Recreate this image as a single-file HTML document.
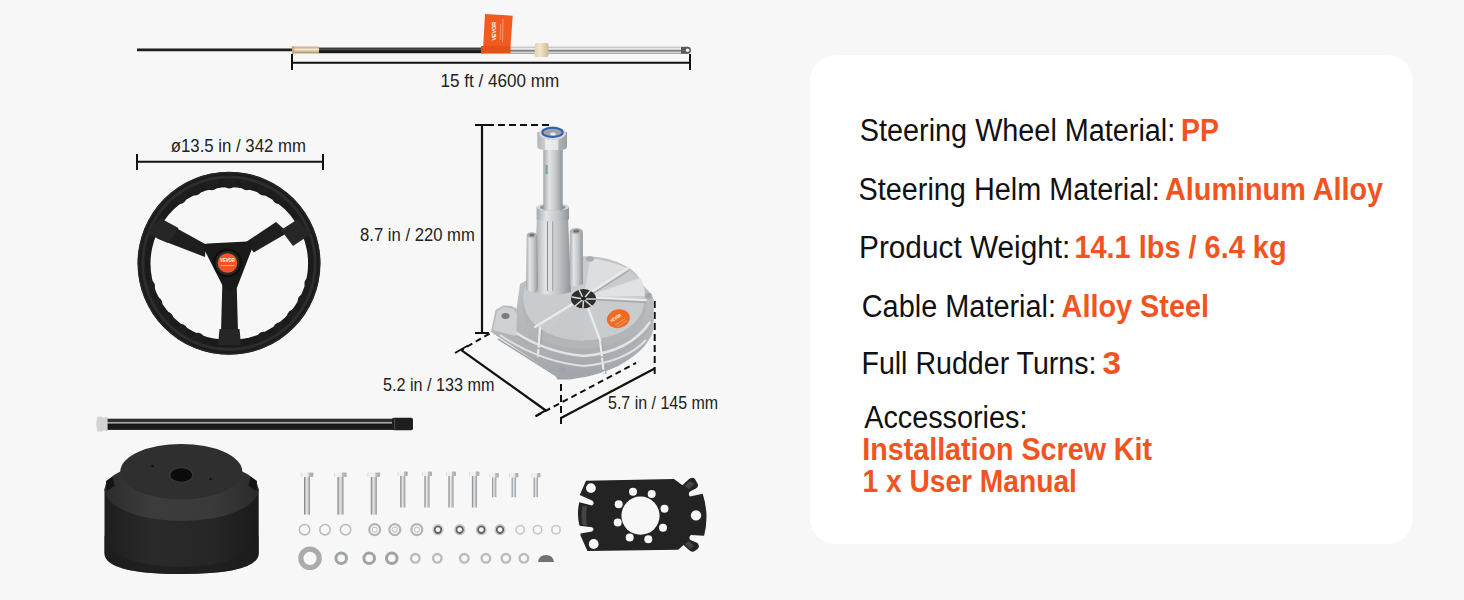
<!DOCTYPE html>
<html><head><meta charset="utf-8">
<style>
html,body{margin:0;padding:0;background:#f7f7f7;}
body{width:1464px;height:600px;overflow:hidden;position:relative;font-family:"Liberation Sans",sans-serif;}
svg{position:absolute;left:0;top:0;}
.card{position:absolute;left:810px;top:55px;width:603px;height:489px;background:#fff;border-radius:26px;}
</style></head><body>
<div class="card"></div>
<svg width="1464" height="600" viewBox="0 0 1464 600">
<defs>
  <linearGradient id="silverV" x1="0" y1="0" x2="1" y2="0">
    <stop offset="0" stop-color="#a4a8ac"/><stop offset="0.3" stop-color="#e2e4e6"/><stop offset="0.65" stop-color="#c3c6c9"/><stop offset="1" stop-color="#8f9397"/>
  </linearGradient>
  <linearGradient id="rodG" x1="0" y1="0" x2="0" y2="1">
    <stop offset="0" stop-color="#8d9194"/><stop offset="0.3" stop-color="#eceeef"/><stop offset="0.7" stop-color="#b8bbbe"/><stop offset="1" stop-color="#7d8184"/>
  </linearGradient>
  <linearGradient id="blackRod" x1="0" y1="0" x2="0" y2="1">
    <stop offset="0" stop-color="#1a1a1a"/><stop offset="0.3" stop-color="#5a5a5a"/><stop offset="0.5" stop-color="#262626"/><stop offset="1" stop-color="#141414"/>
  </linearGradient>
  <linearGradient id="brass" x1="0" y1="0" x2="0" y2="1">
    <stop offset="0" stop-color="#c4a37a"/><stop offset="0.45" stop-color="#f3e5cc"/><stop offset="1" stop-color="#a98a5e"/>
  </linearGradient>
  <linearGradient id="baseSide" x1="0" y1="0" x2="1" y2="0">
    <stop offset="0" stop-color="#1e1e1e"/><stop offset="0.3" stop-color="#2a2a2a"/><stop offset="0.7" stop-color="#262626"/><stop offset="1" stop-color="#1a1a1a"/>
  </linearGradient>
  <linearGradient id="boltG" x1="0" y1="0" x2="1" y2="0">
    <stop offset="0" stop-color="#727578"/><stop offset="0.18" stop-color="#a6a9ac"/><stop offset="0.4" stop-color="#e4e6e8"/><stop offset="0.7" stop-color="#c4c7c9"/><stop offset="1" stop-color="#8a8d90"/>
  </linearGradient>
  <linearGradient id="boltH" x1="0" y1="0" x2="1" y2="0">
    <stop offset="0" stop-color="#c9cbcd"/><stop offset="0.1" stop-color="#f2f3f3"/><stop offset="0.6" stop-color="#eceded"/><stop offset="0.65" stop-color="#b9bcbe"/><stop offset="1" stop-color="#a9acaf"/>
  </linearGradient>
  <linearGradient id="bodyG" x1="0" y1="0" x2="0" y2="1">
    <stop offset="0" stop-color="#c2c5c8"/><stop offset="0.6" stop-color="#b4b7ba"/><stop offset="1" stop-color="#a0a4a8"/>
  </linearGradient>
  <linearGradient id="chromeG" x1="0" y1="0" x2="0" y2="1">
    <stop offset="0" stop-color="#8f9193"/><stop offset="0.18" stop-color="#f3f3f3"/><stop offset="0.42" stop-color="#cfd0d1"/><stop offset="0.58" stop-color="#55585a"/><stop offset="0.75" stop-color="#e9eaea"/><stop offset="1" stop-color="#8a8c8e"/>
  </linearGradient>
  <linearGradient id="collarG" x1="0" y1="0" x2="1" y2="0">
    <stop offset="0" stop-color="#e3d3b2"/><stop offset="0.4" stop-color="#f3e6cb"/><stop offset="1" stop-color="#cdbb96"/>
  </linearGradient>
  <clipPath id="rimClip"><path fill-rule="evenodd" d="M0 0 H800 V600 H0 Z M152.3 263.6 a77.0 74.6 0 1 0 154.0 0 a77.0 74.6 0 1 0 -154.0 0 Z"/></clipPath>
  <linearGradient id="chamferG" x1="0" y1="0" x2="1" y2="0">
    <stop offset="0" stop-color="#2c2c2c"/><stop offset="0.3" stop-color="#3c3c3c"/><stop offset="0.7" stop-color="#3a3a3a"/><stop offset="1" stop-color="#2a2a2a"/>
  </linearGradient>
  <linearGradient id="rodBlack" x1="0" y1="0" x2="0" y2="1">
    <stop offset="0" stop-color="#2a2a2a"/><stop offset="0.25" stop-color="#333"/><stop offset="0.3" stop-color="#a8a8a8"/><stop offset="0.4" stop-color="#a8a8a8"/><stop offset="0.47" stop-color="#151515"/><stop offset="1" stop-color="#1c1c1c"/>
  </linearGradient>
  <linearGradient id="hexG" x1="0" y1="0" x2="1" y2="0">
    <stop offset="0" stop-color="#b2b5b8"/><stop offset="0.26" stop-color="#cdd0d2"/><stop offset="0.28" stop-color="#eef0f1"/><stop offset="0.7" stop-color="#e2e4e6"/><stop offset="0.72" stop-color="#b0b4b7"/><stop offset="1" stop-color="#9a9ea2"/>
  </linearGradient>
</defs>

<!-- ===== CABLE ===== -->
<g id="cable">
  <line x1="137" y1="49.9" x2="293" y2="49.9" stroke="#1e1e1e" stroke-width="2.8"/>
  <rect x="292.5" y="46.6" width="26.5" height="6.8" fill="url(#brass)"/>
  <rect x="291.8" y="46" width="2.4" height="8" fill="#c9a877"/>
  <rect x="319" y="47.6" width="165" height="5.6" fill="url(#blackRod)"/>
  <rect x="510" y="46.8" width="178" height="7" fill="url(#chromeG)"/>
  <path d="M681 47 L688 46.8 Q691 47 691 50.3 Q691 53.6 688 53.8 L681 53.8 Z" fill="#5a5a5a"/>
  <circle cx="687.6" cy="50.3" r="1.8" fill="#f0f0f0"/>
  <rect x="534.8" y="43.1" width="13.6" height="14" rx="1.5" fill="url(#collarG)"/>
  <!-- orange tag -->
  <path d="M485 14 L512.7 15.8 L510.5 46.5 L483.2 46.5 Z" fill="#f25a1f"/>
  <rect x="481" y="46" width="29.5" height="7.6" fill="#e4511b"/>
  <text x="0" y="0" transform="translate(496.2 40.5) rotate(-90)" font-family="'Liberation Sans', sans-serif" font-weight="bold" font-size="5.6" fill="#fff" textLength="18.5" lengthAdjust="spacingAndGlyphs">VEVOR</text>
  <line x1="503" y1="19" x2="502.5" y2="42" stroke="#fbc5a8" stroke-width="0.6"/>
  <line x1="500.5" y1="24" x2="500.3" y2="40" stroke="#fbc5a8" stroke-width="0.5"/>
  <!-- dim line -->
  <line x1="292" y1="62.8" x2="690" y2="62.8" stroke="#111" stroke-width="2"/>
  <line x1="292" y1="54" x2="292" y2="70" stroke="#111" stroke-width="2"/>
  <line x1="690" y1="54" x2="690" y2="70" stroke="#111" stroke-width="2"/>
  <text x="440.55" y="86.8" font-family="'Liberation Sans', sans-serif" font-size="18" fill="#222" textLength="118.56" lengthAdjust="spacingAndGlyphs">15 ft / 4600 mm</text>
</g>

<!-- ===== STEERING WHEEL ===== -->
<g id="wheel">
  <line x1="136.5" y1="161.8" x2="323.5" y2="161.8" stroke="#111" stroke-width="2"/>
  <line x1="137" y1="154" x2="137" y2="170" stroke="#111" stroke-width="2"/>
  <line x1="323" y1="154" x2="323" y2="170" stroke="#111" stroke-width="2"/>
  <text x="170.77" y="151.9" font-family="'Liberation Sans', sans-serif" font-size="18" fill="#222" textLength="135.14" lengthAdjust="spacingAndGlyphs">ø13.5 in / 342 mm</text>
  <circle cx="229" cy="263.3" r="91.5" fill="#1b1b1b"/>
  <circle cx="229" cy="263.3" r="90.5" fill="none" stroke="#262626" stroke-width="1.5"/>
  <ellipse cx="229.3" cy="263.6" rx="78.8" ry="76.4" fill="#f7f7f7"/>
  <g fill="#1e1e1e"><circle cx="179.8" cy="197.4" r="6.6"/><circle cx="195.1" cy="188.9" r="6.6"/><circle cx="211.8" cy="183.6" r="6.6"/><circle cx="229.3" cy="181.8" r="6.6"/><circle cx="246.8" cy="183.6" r="6.6"/><circle cx="263.5" cy="188.9" r="6.6"/><circle cx="278.8" cy="197.4" r="6.6"/><circle cx="197.8" cy="339.4" r="6.6"/><circle cx="181.0" cy="330.6" r="6.6"/><circle cx="166.7" cy="318.3" r="6.6"/><circle cx="155.7" cy="303.3" r="6.6"/><circle cx="148.4" cy="286.1" r="6.6"/><circle cx="311.0" cy="283.4" r="6.6"/><circle cx="304.3" cy="300.7" r="6.6"/><circle cx="293.8" cy="316.2" r="6.6"/><circle cx="280.0" cy="328.9" r="6.6"/><circle cx="263.5" cy="338.3" r="6.6"/></g>
  <circle cx="229" cy="263.3" r="86.2" fill="none" stroke="#2d2d2d" stroke-width="3"/>
  <!-- spokes -->
  <path d="M157 238.5 L167.5 223.3 L206 244.5 L205 257 Z" fill="#1e1e1e"/>
  <path d="M276 222 L288 232.6 L253.8 252.4 L246 242 Z" fill="#1e1e1e"/>
  <path d="M222.3 285 L236.7 285 L238 332 L221 332 Z" fill="#1e1e1e"/>
  <path d="M146 233 L160 218 L178.5 228 L168 243 Z" fill="#262626"/>
  <path d="M298 219 L311 234 L293 246 L281 230 Z" fill="#262626"/>
  <path d="M219.5 329 L239.5 329 L241 345 L218 345 Z" fill="#262626"/>
  <!-- hub -->
  <path d="M204 249 Q202.5 243.5 208 243.5 L247 241.5 Q253.5 241 252.5 247.5 L237 287.5 Q230 294 223.5 287.5 Z" fill="#1a1a1a"/>
  <circle cx="227.5" cy="263" r="14.3" fill="#0e0e0e"/>
  <circle cx="227.5" cy="263" r="12" fill="#2a2a2a"/>
  <circle cx="227.5" cy="263" r="9.8" fill="#f05523"/>
  <text x="220.2" y="262" font-family="'Liberation Sans', sans-serif" font-weight="bold" font-size="4.6" fill="#fff" textLength="14.6" lengthAdjust="spacingAndGlyphs">VEVOR</text>
  <rect x="220.5" y="265" width="14" height="0.9" fill="#fff" opacity="0.55"/>
</g>

<!-- ===== HELM ===== -->
<g id="helm">
  <!-- dims -->
  <line x1="482" y1="125" x2="482" y2="333" stroke="#111" stroke-width="2.2"/>
  <line x1="475" y1="333" x2="489" y2="333" stroke="#111" stroke-width="2"/>
  <line x1="475" y1="125" x2="489" y2="125" stroke="#111" stroke-width="2"/>
  <line x1="549" y1="125" x2="489" y2="125" stroke="#111" stroke-width="2" stroke-dasharray="7 4"/>
  <text x="360.08" y="240.6" font-family="'Liberation Sans', sans-serif" font-size="18" fill="#222" textLength="114.71" lengthAdjust="spacingAndGlyphs">8.7 in / 220 mm</text>

  <line x1="489.5" y1="333.6" x2="461" y2="350.3" stroke="#111" stroke-width="2" stroke-dasharray="6 4"/>
  <line x1="455" y1="353" x2="468" y2="345.5" stroke="#111" stroke-width="2"/>
  <line x1="461.7" y1="350.3" x2="545.8" y2="410.5" stroke="#111" stroke-width="2.2"/>
  <line x1="535.4" y1="416.3" x2="546.4" y2="409.9" stroke="#111" stroke-width="2"/>
  <line x1="536" y1="416" x2="636" y2="363" stroke="#111" stroke-width="2" stroke-dasharray="6 4"/>
  <text x="383.0" y="390.9" font-family="'Liberation Sans', sans-serif" font-size="18" fill="#222" textLength="111.55" lengthAdjust="spacingAndGlyphs">5.2 in / 133 mm</text>

  <line x1="561" y1="384" x2="561" y2="427" stroke="#111" stroke-width="2" stroke-dasharray="7 4"/>
  <line x1="654.7" y1="301" x2="654.7" y2="375" stroke="#111" stroke-width="2" stroke-dasharray="7 4"/>
  <line x1="561" y1="418" x2="654.7" y2="368.5" stroke="#111" stroke-width="2.2"/>
  <text x="608.01" y="408.9" font-family="'Liberation Sans', sans-serif" font-size="18" fill="#222" textLength="110.13" lengthAdjust="spacingAndGlyphs">5.7 in / 145 mm</text>

  <!-- body -->
  <path d="M491 332 L495.5 310 L503 305.4 L512 306 L516.5 309 L520 284 L527 280 Q545 262 582 256.5 Q605 255 627.5 266.7 Q638 273 642 283.7 L651.7 294.5 L654 300.6 L653.5 329.6 Q650 342 639.6 351.3 Q628 361 618 366 Q600 374 586.5 376.7 L569.6 379.6 L557.5 379.5 L554 374 Z" fill="url(#bodyG)"/>
  <!-- top disc -->
  <path d="M523 300 Q523 262 584 258.5 Q641 262 645 296 Q645 330 600 339 Q584 342 565 339 Q526 330 523 300 Z" fill="#c9ccce"/>
  <path d="M523 300 Q526 330 565 339 Q584 342 600 339 Q645 330 645 296 L646 306 Q645 336 600 347 Q584 350 565 347 Q524 338 523 310 Z" fill="#b3b6b9"/>
  <!-- sector shading -->
  <path d="M584 297 L548 333 Q560 339 584 341 Z" fill="#c6c9cc"/>
  <path d="M584 297 L645 296 Q645 285 640 278 Z" fill="#dfe1e3"/>
  <path d="M584 297 L627 268 Q606 259 590 258.5 Z" fill="#dcdee0"/>
  <!-- ribs -->
  <g stroke="#e9ebec" stroke-width="2.2" fill="none" stroke-linecap="round">
    <path d="M584 297 L628 268"/>
    <path d="M584 297 L646 300"/>
    <path d="M584 297 L600 340"/>
    <path d="M584 297 L535 327"/>
    <path d="M540 328 L538 356"/>
    <path d="M600 340 L604 373"/>
  </g>
  <g stroke="#a3a7ab" stroke-width="1.3" fill="none">
    <path d="M584 299 L629 270.5"/>
    <path d="M586 299 L646 302.5"/>
    <path d="M542 330 L540 357"/>
    <path d="M602 341 L606 374"/>
  </g>
  <!-- skirt ridges -->
  <path d="M505 325 Q540 352 584 356 Q630 352 650 322" fill="none" stroke="#e2e4e6" stroke-width="2.4"/>
  <path d="M505 328 Q540 356 584 360 Q630 356 651 326" fill="none" stroke="#a9adb1" stroke-width="1.4"/>
  <path d="M500 335 Q540 362 584 366 Q625 362 646 340" fill="none" stroke="#dfe1e3" stroke-width="2"/>
  <path d="M498 339 L555 375 L569 378 Q600 374 620 364" fill="none" stroke="#a3a7ab" stroke-width="1.6"/>
  <!-- left lug -->
  <path d="M493 330 L497 311 L504 307 L514 309 L517 314 L516 336 Z" fill="#cfd2d4"/>
  <ellipse cx="505.5" cy="316" rx="4" ry="3" fill="#7a7e82"/>
  <!-- front lug -->
  <ellipse cx="562" cy="370" rx="3.5" ry="3" fill="#9ea2a6"/>
  <!-- right lug -->
  <ellipse cx="648.5" cy="296" rx="3.5" ry="3" fill="#a4a8ac"/>
  <!-- back lug -->
  <ellipse cx="590" cy="259" rx="4" ry="2.8" fill="#a9adb1"/>
  <!-- column & posts -->
  <path d="M537 216 L568 216 L571 292 Q553 298 534 292 Z" fill="url(#silverV)"/>
  <rect x="547.6" y="219" width="4.6" height="72" fill="#dcdee0"/>
  <rect x="547" y="219" width="1" height="72" fill="#8d9195"/>
  <rect x="552.2" y="219" width="1" height="72" fill="#9a9ea2"/>
  <path d="M526.7 236 Q526.7 233 532 233 Q537.2 233 537.2 236 L538 290 Q532 293 526 290 Z" fill="url(#silverV)"/>
  <ellipse cx="531.9" cy="235" rx="5.2" ry="2.8" fill="#aeb2b5"/>
  <ellipse cx="531.9" cy="235" rx="2.6" ry="1.5" fill="#6d7175"/>
  <path d="M569.8 231.5 Q569.8 229 576.3 229 Q582.8 229 582.8 231.5 L583 284 Q576 288 569.5 285 Z" fill="url(#silverV)"/>
  <ellipse cx="576.3" cy="231" rx="6.2" ry="3" fill="#aeb2b5"/>
  <ellipse cx="576.3" cy="231" rx="3" ry="1.6" fill="#6d7175"/>
  <!-- collar -->
  <path d="M536.6 207 L569 207 L569 219.5 Q552.8 223.5 536.6 219.5 Z" fill="url(#silverV)"/>
  <ellipse cx="552.8" cy="207" rx="16.2" ry="4" fill="#d5d7d9"/>
  <ellipse cx="552.8" cy="207.3" rx="12.8" ry="3" fill="#8e9296"/>
  <!-- shaft -->
  <rect x="543.3" y="148" width="19.4" height="62.5" fill="url(#silverV)"/>
  <rect x="545.5" y="165" width="2.2" height="9" fill="#7aa39a"/>
  <!-- nut -->
  <path d="M537.3 132 L567 132 L567 146 Q567 149.5 562 150 L543 150 Q537.3 149.5 537.3 146 Z" fill="url(#hexG)"/>
  <ellipse cx="552.5" cy="133.2" rx="13.2" ry="7" fill="#d6d8da"/>
  <ellipse cx="552.5" cy="132.4" rx="10.2" ry="4.6" fill="#9ea2a6" stroke="#2f5fb2" stroke-width="2"/>
  <ellipse cx="553" cy="134" rx="3" ry="1.4" fill="#e8eaec"/>
  <!-- center hole -->
  <ellipse cx="583.5" cy="298.7" rx="12.5" ry="9.6" fill="#2e2e2e"/>
  <g stroke="#d8dadc" stroke-width="1.5" stroke-linecap="round">
    <path d="M583.5 299 L579 289.5"/><path d="M583.5 299 L591 290"/><path d="M583.5 299 L572 297"/><path d="M583.5 299 L595.5 299"/><path d="M583.5 299 L575 306"/><path d="M583.5 299 L592 306.5"/><path d="M583.5 299 L583 308"/>
  </g>
  <ellipse cx="583.5" cy="298.5" rx="2.5" ry="2" fill="#222"/>
  <!-- logo -->
  <ellipse cx="618.4" cy="318.7" rx="11.6" ry="9.3" fill="#f26a22" transform="rotate(-12 618.4 318.7)"/>
  <text x="0" y="0" transform="translate(611.5 322.5) rotate(-32)" font-family="'Liberation Sans', sans-serif" font-weight="bold" font-size="4.4" fill="#fff" textLength="12" lengthAdjust="spacingAndGlyphs">VEVOR</text>
  <line x1="615" y1="325" x2="625" y2="318.7" stroke="#fff" stroke-width="0.6" opacity="0.6"/>
  <line x1="617" y1="327" x2="627" y2="320.7" stroke="#fff" stroke-width="0.6" opacity="0.6"/>
</g>

<!-- ===== ROD ===== -->
<g id="rod">
  <rect x="107" y="418.7" width="287" height="11.2" fill="url(#rodBlack)"/>
  <path d="M97 417 Q102 415.5 104 418 Q105.5 416 107.6 417 L107.6 431 Q105.5 432 104 430 Q102 432.5 97 431 Q95.5 424 97 417 Z" fill="#d2d3d3"/>
  <rect x="392" y="417.8" width="21" height="12.4" rx="2" fill="#1e1e1e"/>
  <rect x="394" y="418.5" width="1.2" height="11" fill="#444"/>
</g>

<!-- ===== BASE ===== -->
<g id="base">
  <path d="M104.5 489 L104.5 553 Q104.5 574 181.6 574 Q258.7 574 258.7 553 L258.7 489 Z" fill="url(#baseSide)"/>
  <path d="M104.5 535 L104.5 553 Q104.5 574 181.6 574 Q258.7 574 258.7 553 L258.7 535 Q252 566 181.6 567 Q111 566 104.5 535 Z" fill="#1d1d1d" opacity="0.75"/>
  <path d="M104.5 489 Q106 478 120.3 471.5 L242.3 471.5 Q257 478 258.7 489 Z" fill="#333"/>
  <path d="M104.5 489 L120.3 471.5 A61 27.5 0 0 0 242.3 471.5 L258.7 489 A77.1 32 0 0 1 104.5 489 Z" fill="url(#chamferG)"/>
  <ellipse cx="181.3" cy="471.5" rx="61" ry="27.5" fill="#2f2f2f"/>
  <ellipse cx="181.3" cy="475" rx="12.2" ry="7.8" fill="#3a3a3a"/>
  <ellipse cx="181.3" cy="475" rx="11" ry="6.8" fill="#0b0b0b"/>
  <circle cx="152.5" cy="466" r="1.3" fill="#111"/>
  <circle cx="210.5" cy="479" r="1.3" fill="#111"/>
  <path d="M106 481 L112.5 476.5 L114.5 486 L106.5 491 Z" fill="#141414"/>
  <path d="M257 481 L250.5 476.5 L248.5 486 L256.5 491 Z" fill="#141414"/>
</g>

<!-- ===== HARDWARE ===== -->
<g id="hardware">
  <rect x="304.0" y="476.5" width="6" height="38.1" fill="url(#boltG)"/>
  <rect x="300.8" y="472.5" width="12.5" height="4.5" rx="0.8" fill="url(#boltH)"/>
  <rect x="337.5" y="476.5" width="6" height="38.1" fill="url(#boltG)"/>
  <rect x="334.2" y="472.5" width="12.5" height="4.5" rx="0.8" fill="url(#boltH)"/>
  <rect x="370.8" y="476.5" width="6" height="38.1" fill="url(#boltG)"/>
  <rect x="367.6" y="472.5" width="12.5" height="4.5" rx="0.8" fill="url(#boltH)"/>
  <rect x="400.3" y="475.5" width="5" height="32.0" fill="url(#boltG)"/>
  <rect x="397.8" y="471.5" width="10" height="4.5" rx="0.8" fill="url(#boltH)"/>
  <rect x="424.5" y="475.5" width="5" height="32.0" fill="url(#boltG)"/>
  <rect x="422.0" y="471.5" width="10" height="4.5" rx="0.8" fill="url(#boltH)"/>
  <rect x="448.5" y="475.5" width="5" height="32.0" fill="url(#boltG)"/>
  <rect x="446.0" y="471.5" width="10" height="4.5" rx="0.8" fill="url(#boltH)"/>
  <rect x="471.9" y="475.5" width="5" height="32.0" fill="url(#boltG)"/>
  <rect x="469.4" y="471.5" width="10" height="4.5" rx="0.8" fill="url(#boltH)"/>
  <rect x="492.1" y="477.0" width="4.2" height="20.2" fill="url(#boltG)"/>
  <rect x="489.6" y="473" width="9.2" height="4.5" rx="0.8" fill="url(#boltH)"/>
  <rect x="511.7" y="477.0" width="4.2" height="20.2" fill="url(#boltG)"/>
  <rect x="509.2" y="473" width="9.2" height="4.5" rx="0.8" fill="url(#boltH)"/>
  <rect x="533.7" y="477.0" width="4.2" height="20.2" fill="url(#boltG)"/>
  <rect x="531.2" y="473" width="9.2" height="4.5" rx="0.8" fill="url(#boltH)"/>
  <circle cx="304.6" cy="529.7" r="5.2" fill="none" stroke="#b9bcbe" stroke-width="1.6"/>
  <circle cx="325" cy="529.7" r="5.2" fill="none" stroke="#b9bcbe" stroke-width="1.6"/>
  <circle cx="345.5" cy="529.7" r="5.2" fill="none" stroke="#b9bcbe" stroke-width="1.6"/>
  <circle cx="374.7" cy="529.7" r="5.5" fill="none" stroke="#b3b6b8" stroke-width="2.2"/>
  <circle cx="394.8" cy="529.7" r="5.5" fill="none" stroke="#b3b6b8" stroke-width="2.2"/>
  <circle cx="416.8" cy="529.7" r="5.5" fill="none" stroke="#b3b6b8" stroke-width="2.2"/>
  <circle cx="438" cy="529.7" r="5" fill="none" stroke="#c4c6c8" stroke-width="1.2"/><circle cx="438" cy="529.7" r="3.3" fill="#f4f4f4" stroke="#5e6164" stroke-width="1.8"/>
  <circle cx="459.7" cy="529.7" r="5" fill="none" stroke="#c4c6c8" stroke-width="1.2"/><circle cx="459.7" cy="529.7" r="3.3" fill="#f4f4f4" stroke="#5e6164" stroke-width="1.8"/>
  <circle cx="481.3" cy="529.7" r="5" fill="none" stroke="#c4c6c8" stroke-width="1.2"/><circle cx="481.3" cy="529.7" r="3.3" fill="#f4f4f4" stroke="#5e6164" stroke-width="1.8"/>
  <circle cx="500" cy="529.7" r="5" fill="none" stroke="#c4c6c8" stroke-width="1.2"/><circle cx="500" cy="529.7" r="3.3" fill="#f4f4f4" stroke="#5e6164" stroke-width="1.8"/>
  <circle cx="520.2" cy="529.7" r="4.2" fill="none" stroke="#c3c5c7" stroke-width="1.6"/>
  <circle cx="537.6" cy="529.7" r="4.2" fill="none" stroke="#c3c5c7" stroke-width="1.6"/>
  <circle cx="556" cy="529.7" r="4.2" fill="none" stroke="#c3c5c7" stroke-width="1.6"/>
  <circle cx="310" cy="558.3" r="9.2" fill="none" stroke="#a9acae" stroke-width="5.2"/>
  <circle cx="341.2" cy="558.3" r="5.3" fill="none" stroke="#a0a3a5" stroke-width="3"/>
  <circle cx="369.2" cy="558.3" r="5.3" fill="none" stroke="#a0a3a5" stroke-width="3"/>
  <circle cx="391.8" cy="558.3" r="5.3" fill="none" stroke="#a0a3a5" stroke-width="3"/>
  <circle cx="415.3" cy="558.3" r="4.3" fill="none" stroke="#b9bcbe" stroke-width="2.4"/>
  <circle cx="437.3" cy="558.3" r="4.3" fill="none" stroke="#b9bcbe" stroke-width="2.4"/>
  <circle cx="464.3" cy="558.3" r="4.3" fill="none" stroke="#b9bcbe" stroke-width="2.4"/>
  <circle cx="485.9" cy="558.3" r="4.3" fill="none" stroke="#b9bcbe" stroke-width="2.4"/>
  <circle cx="505.9" cy="558.3" r="4.3" fill="none" stroke="#b9bcbe" stroke-width="2.4"/>
  <circle cx="523.9" cy="558.3" r="4.3" fill="none" stroke="#b9bcbe" stroke-width="2.4"/>
  <circle cx="374.7" cy="529.7" r="2.6" fill="none" stroke="#b8bbbd" stroke-width="1"/>
  <circle cx="394.8" cy="529.7" r="2.6" fill="none" stroke="#b8bbbd" stroke-width="1"/>
  <circle cx="416.8" cy="529.7" r="2.6" fill="none" stroke="#b8bbbd" stroke-width="1"/>
  <path d="M538 562 Q539 555 546 555 Q553 555 554 562 Z" fill="#6f7173"/>
</g>
<!-- ===== PLATE ===== -->
<g id="plate">
  <path d="M586 480.7 L674 479 L682.4 485.3 L688.5 479.5 Q692 476.5 695 479 L698 484.5 Q698.5 487 696 488.5 L690 491.5 Q687.5 494 690 496.5 L702.7 493.7 Q709.5 515 704.1 535.8 L691 535 Q688 537.5 690.5 540 L697.5 543 Q700 546 698 548.5 L694.5 551.2 Q691.5 552.5 689 550 L683.5 545 L678.2 549.8 L587.4 551 L580.5 535.6 L580.5 533.5 L592 531.4 Q595 529.3 592 527.2 L579.5 525.8 Q576.5 514 579.3 502.2 L592 505.6 Q595.5 503 592 500.6 L579.7 495 Z" fill="#232323"/>
  <path d="M582.5 506 Q580.5 516 582.5 525 L587 525.5 Q585.5 516 587 506.5 Z" fill="#444"/>
  <path d="M684.5 486 L690 481 L694 484 L689 489 Z" fill="#444"/>
  <path d="M684.5 544 L690 549 L694 546 L689 541 Z" fill="#444"/>
  <g fill="#f7f7f7">
    <circle cx="640.5" cy="515.7" r="19.1"/>
    <circle cx="633" cy="491.7" r="4"/><circle cx="651.7" cy="494" r="4"/><circle cx="664.5" cy="508.7" r="4"/><circle cx="663" cy="527.7" r="4"/>
    <circle cx="648.3" cy="539.3" r="4"/><circle cx="629.7" cy="537.5" r="4"/><circle cx="617.7" cy="522.5" r="4"/><circle cx="618.7" cy="504.2" r="4"/>
    <circle cx="590.9" cy="488.1" r="4.9"/><circle cx="593.7" cy="544" r="4.9"/><circle cx="696" cy="515.4" r="5.2"/>
  </g>
</g>

<!-- ===== RIGHT TEXT ===== -->
<g font-family="'Liberation Sans', sans-serif" font-size="31" fill="#111">
  <text x="859.84" y="140.7" textLength="315.42" lengthAdjust="spacingAndGlyphs">Steering Wheel Material:</text>
  <text x="1181.06" y="140.7" font-weight="bold" fill="#f2531f" textLength="37.99" lengthAdjust="spacingAndGlyphs">PP</text>
  <text x="858.54" y="199.7" textLength="301.16" lengthAdjust="spacingAndGlyphs">Steering Helm Material:</text>
  <text x="1165.07" y="199.7" font-weight="bold" fill="#f2531f" textLength="217.98" lengthAdjust="spacingAndGlyphs">Aluminum Alloy</text>
  <text x="859.02" y="258.3" textLength="211.35" lengthAdjust="spacingAndGlyphs">Product Weight:</text>
  <text x="1074.43" y="258.3" font-weight="bold" fill="#f2531f" textLength="212.17" lengthAdjust="spacingAndGlyphs">14.1 lbs / 6.4 kg</text>
  <text x="861.74" y="317.0" textLength="194.33" lengthAdjust="spacingAndGlyphs">Cable Material:</text>
  <text x="1061.57" y="317.0" font-weight="bold" fill="#f2531f" textLength="147.43" lengthAdjust="spacingAndGlyphs">Alloy Steel</text>
  <text x="861.43" y="374.4" textLength="235.08" lengthAdjust="spacingAndGlyphs">Full Rudder Turns:</text>
  <text x="1102.63" y="374.4" font-weight="bold" fill="#f2531f" textLength="18.51" lengthAdjust="spacingAndGlyphs">3</text>
  <text x="864.2" y="427.6" textLength="163.24" lengthAdjust="spacingAndGlyphs">Accessories:</text>
  <text x="862.35" y="459.5" font-weight="bold" fill="#f2531f" textLength="289.72" lengthAdjust="spacingAndGlyphs">Installation Screw Kit</text>
  <text x="862.38" y="491.6" font-weight="bold" fill="#f2531f" textLength="214.58" lengthAdjust="spacingAndGlyphs">1 x User Manual</text>
</g>
</svg>
</body></html>
